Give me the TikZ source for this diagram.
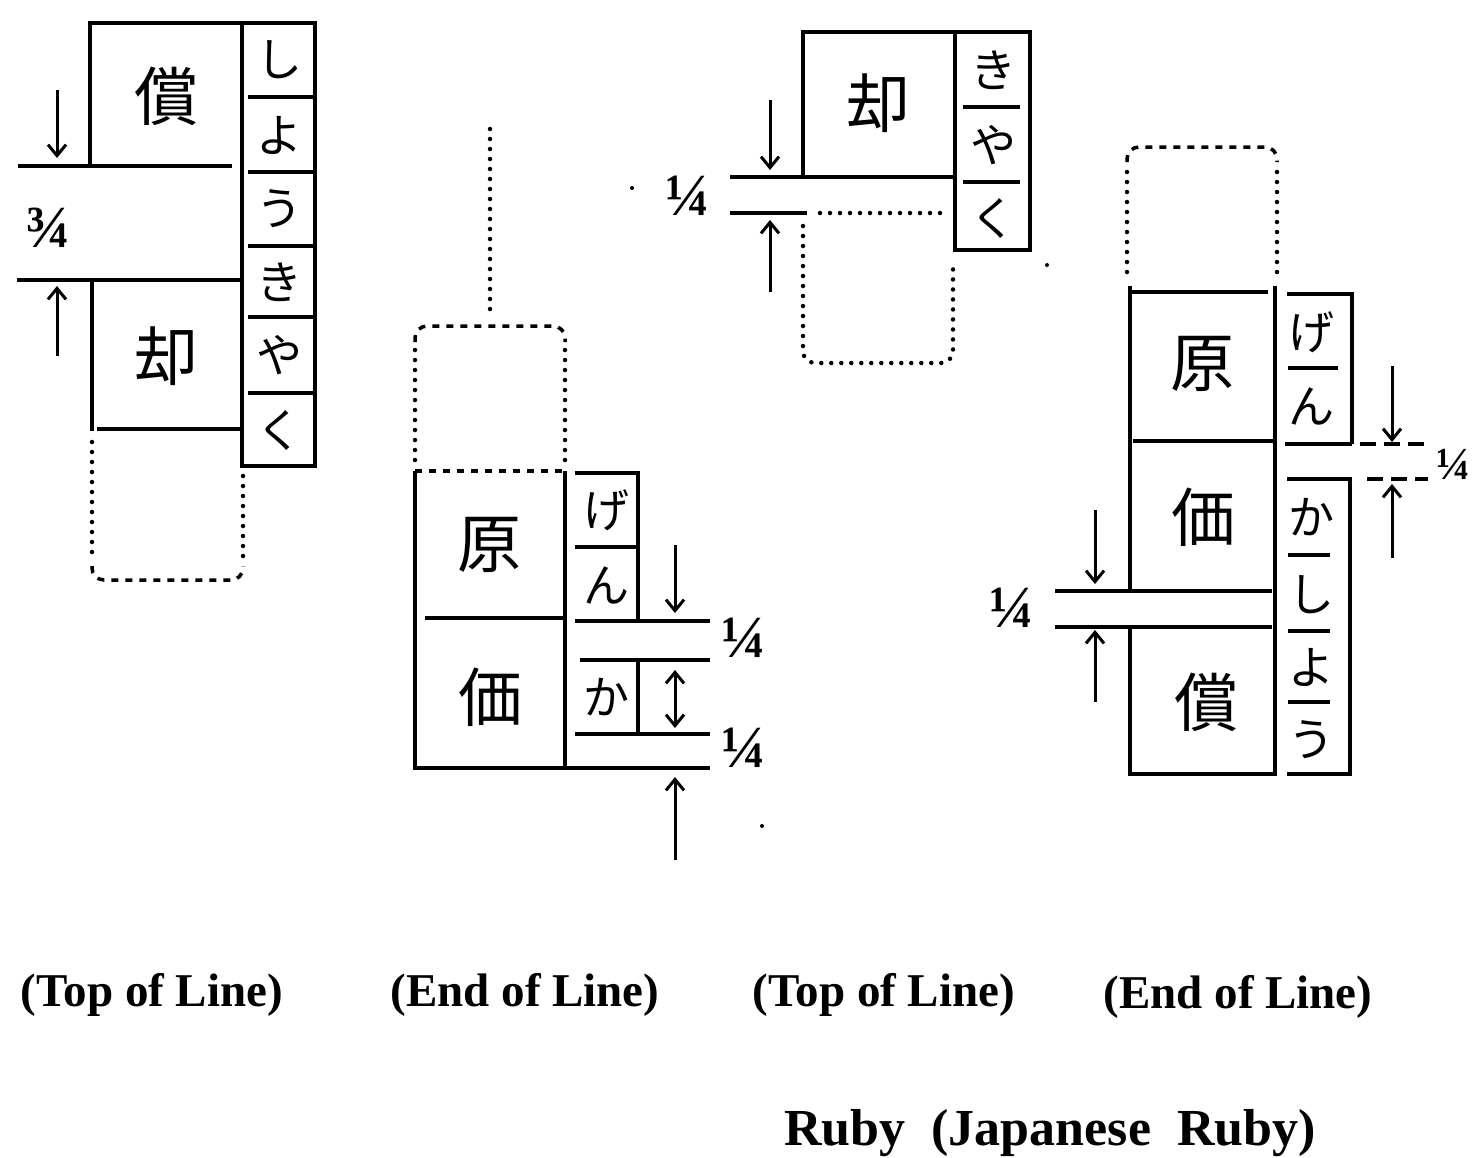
\documentclass[tikz,border=0pt]{standalone}
\usepackage{fontspec}
\setmainfont{Liberation Serif}
\newfontfamily\jp{Noto Sans CJK JP}
\usetikzlibrary{arrows.meta}
\begin{document}
\begin{tikzpicture}[x=1pt,y=-1pt,
  sl/.style={line width=3.5pt},
  dotl/.style={line width=4.5pt,line cap=round,dash pattern=on 0pt off 10pt},
  dashl/.style={line width=3.5pt,dash pattern=on 7pt off 7pt},
  longdash/.style={line width=3.5pt,dash pattern=on 16pt off 8pt},
  arr/.style={line width=3pt,-{Straight Barb[length=11pt,width=18pt,line width=3pt]}},
  darr/.style={line width=3pt,{Straight Barb[length=11pt,width=18pt,line width=3pt]}-{Straight Barb[length=11pt,width=18pt,line width=3pt]}},
  kanji/.style={font=\jp\fontsize{64}{64}\selectfont,inner sep=0pt},
  kana/.style={font=\jp\fontsize{46}{46}\selectfont,inner sep=0pt},
  frac/.style={font=\bfseries\fontsize{60}{60}\selectfont,inner sep=0pt},
  capt/.style={font=\bfseries\fontsize{47}{47}\selectfont,inner sep=0pt},
  speck/.style={fill=black,inner sep=0pt,minimum size=4pt,circle}]
\useasboundingbox (0,0) rectangle (1475,1157);
\fill[white] (0,0) rectangle (1475,1157);

% ---------- Diagram 1 (Top of Line) ----------
\draw[sl] (18,166) -- (232,166);
\draw[sl] (90,166) -- (90,23) -- (315,23) -- (315,466) -- (242,466) -- (242,23);
\draw[sl] (17,280) -- (242,280);
\draw[sl] (92,280) -- (92,431);
\draw[sl] (97,429) -- (242,429);
\foreach \y in {97,172,246,317,393} \draw[sl] (248,\y) -- (313,\y);
\draw[dotl] (92,442) -- (92,560);
\draw[dotl] (243,476) -- (243,560);
\draw[dashl,rounded corners=12pt] (92,566) -- (92,580) -- (243,580) -- (243,566);
\node[kanji] (d1sho) at (166,96) {償};
\node[kanji] (d1kyaku) at (166,356) {却};
\node[kana] (d1r1) at (279,60) {し};
\node[kana] (d1r2) at (279,135) {よ};
\node[kana] (d1r3) at (279,209) {う};
\node[kana] (d1r4) at (279,282) {き};
\node[kana] (d1r5) at (279,355) {や};
\node[kana] (d1r6) at (279,430) {く};
\coordinate (d1a1) at (57,90); \coordinate (d1a2) at (57,158);
\coordinate (d1b1) at (57,356); \coordinate (d1b2) at (57,286);
\draw[arr] (d1a1) -- (d1a2);
\draw[arr] (d1b1) -- (d1b2);
\node[frac] (d1f) at (48,228) {¾};

% ---------- Diagram 2 (End of Line) ----------
\draw[dotl] (490,129) -- (490,318);
\draw[dashl,rounded corners=12pt] (415,342) -- (415,326) -- (565,326) -- (565,342);
\draw[dotl] (415,350) -- (415,462);
\draw[dotl] (565,350) -- (565,462);
\draw[dashl] (415,471) -- (565,471);
\draw[sl] (415,471) -- (415,768) -- (710,768);
\draw[sl] (565,471) -- (565,768);
\draw[sl] (425,618) -- (565,618);
\draw[sl] (575,473) -- (638,473) -- (638,621);
\draw[sl] (575,547) -- (638,547);
\draw[sl] (575,621) -- (710,621);
\draw[sl] (580,660) -- (710,660);
\draw[sl] (638,660) -- (638,734);
\draw[sl] (575,734) -- (710,734);
\node[kanji] (d2gen) at (489,545) {原};
\node[kanji] (d2ka) at (490,697) {価};
\node[kana] (d2r1) at (606,510) {げ};
\node[kana] (d2r2) at (606,585) {ん};
\node[kana] (d2r3) at (606,697) {か};
\coordinate (d2a1) at (675,545); \coordinate (d2a2) at (675,613);
\coordinate (d2b1) at (675,670); \coordinate (d2b2) at (675,728);
\coordinate (d2c1) at (675,860); \coordinate (d2c2) at (675,777);
\draw[arr] (d2a1) -- (d2a2);
\draw[darr] (d2b1) -- (d2b2);
\draw[arr] (d2c1) -- (d2c2);
\node[frac] (d2f1) at (744,638) {¼};
\node[frac] (d2f2) at (744,748) {¼};
\node[speck] (d2s1) at (762,826) {};

% ---------- Diagram 3 (Top of Line) ----------
\draw[sl] (730,177) -- (955,177);
\draw[sl] (803,177) -- (803,32) -- (1030,32) -- (1030,250) -- (955,250) -- (955,32);
\draw[sl] (963,107) -- (1020,107);
\draw[sl] (963,182) -- (1020,182);
\draw[sl] (730,213) -- (807,213);
\draw[dotl] (820,213) -- (950,213);
\draw[dotl,rounded corners=12pt] (803,226) -- (803,363) -- (953,363) -- (953,262);
\node[kanji] (d3kyaku) at (878,103) {却};
\node[kana] (d3r1) at (993,70) {き};
\node[kana] (d3r2) at (993,145) {や};
\node[kana] (d3r3) at (993,218) {く};
\coordinate (d3a1) at (770,100); \coordinate (d3a2) at (770,170);
\coordinate (d3b1) at (770,292); \coordinate (d3b2) at (770,220);
\draw[arr] (d3a1) -- (d3a2);
\draw[arr] (d3b1) -- (d3b2);
\node[frac] (d3f) at (688,196) {¼};
\node[speck] (d3s1) at (632,188) {};
\node[speck] (d3s2) at (1047,265) {};

% ---------- Diagram 4 (End of Line) ----------
\draw[dashl,rounded corners=12pt] (1127,162) -- (1127,147) -- (1277,147) -- (1277,162);
\draw[dotl] (1127,172) -- (1127,280);
\draw[dotl] (1277,172) -- (1277,280);
\draw[sl] (1130,286) -- (1130,589);
\draw[sl] (1130,292) -- (1268,292);
\draw[sl] (1275,286) -- (1275,774) -- (1130,774) -- (1130,627);
\draw[sl] (1133,441) -- (1275,441);
\draw[sl] (1055,591) -- (1272,591);
\draw[sl] (1055,627) -- (1272,627);
\draw[sl] (1287,294) -- (1352,294) -- (1352,444);
\draw[sl] (1288,368) -- (1338,368);
\draw[sl] (1285,444) -- (1352,444);
\draw[longdash] (1360,444) -- (1428,444);
\draw[sl] (1287,479) -- (1350,479) -- (1350,774) -- (1287,774);
\draw[longdash] (1367,479) -- (1428,479);
\foreach \y in {555,631,702} \draw[sl] (1288,\y) -- (1330,\y);
\node[kanji] (d4gen) at (1202,364) {原};
\node[kanji] (d4ka) at (1203,517) {価};
\node[kanji] (d4sho) at (1206,702) {償};
\node[kana] (d4r1) at (1311,332) {げ};
\node[kana] (d4r2) at (1311,406) {ん};
\node[kana] (d4r3) at (1311,517) {か};
\node[kana] (d4r4) at (1311,595) {し};
\node[kana] (d4r5) at (1311,667) {よ};
\node[kana] (d4r6) at (1311,740) {う};
\coordinate (d4a1) at (1392,366); \coordinate (d4a2) at (1392,442);
\coordinate (d4b1) at (1392,558); \coordinate (d4b2) at (1392,484);
\coordinate (d4c1) at (1095,510); \coordinate (d4c2) at (1095,584);
\coordinate (d4d1) at (1095,702); \coordinate (d4d2) at (1095,630);
\draw[arr] (d4a1) -- (d4a2);
\draw[arr] (d4b1) -- (d4b2);
\draw[arr] (d4c1) -- (d4c2);
\draw[arr] (d4d1) -- (d4d2);
\node[frac] (d4f1) at (1012,608) {¼};
\node[frac,font=\bfseries\fontsize{46}{46}\selectfont,anchor=west] (d4f2) at (1436,464) {¼};

% ---------- Captions ----------
\node[capt] (c1) at (152,995) {(Top of Line)};
\node[capt] (c2) at (525,995) {(End of Line)};
\node[capt] (c3) at (884,995) {(Top of Line)};
\node[capt] (c4) at (1238,997) {(End of Line)};
\node[capt,font=\bfseries\fontsize{52}{52}\selectfont] (c5) at (1050,1133) {Ruby\ \ (Japanese\ \ Ruby)};
\end{tikzpicture}
\end{document}
